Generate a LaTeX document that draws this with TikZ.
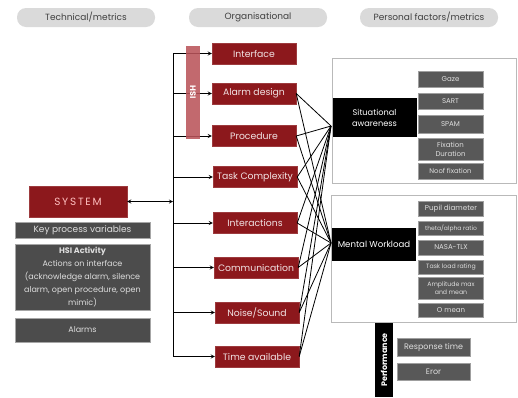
\documentclass[tikz,border=0pt]{standalone}
\usepackage{fontspec}
\setmainfont{Poppins}
\usetikzlibrary{arrows}

\definecolor{orgred}{RGB}{140,24,28}
\definecolor{hsired}{RGB}{186,84,90}
\definecolor{pill}{RGB}{218,218,218}
\definecolor{metricgray}{RGB}{88,88,88}
\definecolor{leftgray}{RGB}{76,76,76}
\definecolor{metrictext}{RGB}{222,222,222}

\begin{document}
\begin{tikzpicture}[x=1pt,y=-1pt,
  header/.style={fill=pill,rounded corners=9pt,minimum width=138pt,minimum height=19pt,inner sep=0pt,text=black!75,font=\fontsize{9}{10}\selectfont},
  orgbox/.style={fill=orgred,draw=orgred!85!white,minimum width=84pt,minimum height=21pt,inner sep=0pt,text=white!88!orgred,font=\fontsize{9.3}{10}\selectfont},
  leftbox/.style={fill=leftgray,draw=gray!70,minimum width=135pt,inner sep=0pt,align=center,text=metrictext,font=\fontsize{8}{12.8}\selectfont},
  metric/.style={fill=metricgray,draw=gray!75,minimum width=65pt,inner sep=0pt,align=center,text=metrictext,font=\fontsize{7}{8}\selectfont},
  blackbox/.style={fill=black,minimum width=84pt,inner sep=0pt,align=center,text=white,font=\fontsize{8.2}{11}\selectfont},
  frame/.style={draw=gray!55,line width=0.6pt},
  link/.style={line width=0.8pt}
]

\useasboundingbox (0,0) rectangle (518,397);

\node (hTech) at (86,17.5)[header]{Technical/metrics};
\node (hOrg) at (258,17.5)[header]{Organisational};
\node (hPers) at (429,17.5)[header]{Personal factors/metrics};

\node (sys) at (78,201.5)[fill=orgred,draw=orgred!85!white,minimum width=98pt,minimum height=31pt,text=red!25!white,font=\fontsize{10.5}{12}\selectfont]{S\,Y\,S\,T\,E\,M};
\node (kpv) at (82.5,230)[leftbox,minimum height=16pt,font=\fontsize{9}{10}\selectfont]{Key process variables};
\node (hsiAct) at (82.5,277)[leftbox,minimum height=66pt]{{\bfseries HSI Activity}\\Actions on interface\\(acknowledge alarm, silence\\alarm, open procedure, open\\mimic)};
\node (alarms) at (82.5,330)[leftbox,minimum height=24pt]{Alarms};

\node (ifc) at (254,53.5)[orgbox]{Interface};
\node (alarm) at (254,93.5)[orgbox]{Alarm design};
\node (proc) at (254,136)[orgbox]{Procedure};
\node (task) at (255,177)[orgbox]{Task Complexity};
\node (inter) at (255,223)[orgbox]{Interactions};
\node (comm) at (256,267.5)[orgbox]{Communication};
\node (noise) at (257,312.5)[orgbox]{Noise/Sound};
\node (time) at (257,356.5)[orgbox]{Time available};

\coordinate (trunk) at (173,0);
\draw[link] (trunk |- ifc) -- (trunk |- time);
\foreach \o in {ifc,alarm,proc,task,inter,comm,noise,time}
  \draw[link,-stealth] (trunk |- \o) -- (\o.west);
\draw[link,stealth-stealth] (sys.east) -- (trunk |- sys);

\node (hsi) at (193,92.5)[rotate=-90,fill=hsired,fill opacity=0.88,text opacity=1,minimum width=93pt,minimum height=14pt,inner sep=0pt,text=white,font=\bfseries\fontsize{8}{9}\selectfont]{HSI};

\draw[frame] (332,58) rectangle (516,183);
\draw[frame] (331,195) rectangle (516,322);

\node (sa) at (374.5,117.5)[blackbox,minimum height=39pt]{Situational\\awareness};
\node (mw) at (374,244.5)[blackbox,minimum height=33pt,font=\fontsize{8.6}{10}\selectfont]{Mental Workload};
\coordinate (saIn) at (331,126);
\coordinate (mwIn) at (331,243);

\foreach \o in {alarm,proc,task,inter,comm,noise,time}{
  \draw[link] (\o.east) -- (saIn);
  \draw[link] (\o.east) -- (mwIn);
}

\node (gaze) at (450.5,79)[metric,minimum height=16pt]{Gaze};
\node (sart) at (450.5,101)[metric,minimum height=16pt]{SART};
\node (spam) at (450.5,124)[metric,minimum height=18pt]{SPAM};
\node (fix) at (450.5,149)[metric,minimum height=22pt,font=\fontsize{7}{9}\selectfont]{Fixation\\Duration};
\node (nofix) at (450.5,171)[metric,minimum height=16pt,font=\fontsize{6.8}{8}\selectfont]{Noof fixation};

\node (pupil) at (451,208.5)[metric,minimum height=15pt,font=\fontsize{7.2}{8}\selectfont]{Pupil diameter};
\node (theta) at (451,228)[metric,minimum height=14pt,font=\fontsize{6}{7}\selectfont]{theta/alpha ratio};
\node (nasa) at (451,247.5)[metric,minimum height=15pt]{NASA-TLX};
\node (tlr) at (451,267)[metric,minimum height=14pt,font=\fontsize{6.2}{7}\selectfont]{Task load rating};
\node (ampl) at (451,288)[metric,minimum height=22pt,font=\fontsize{6.2}{8}\selectfont]{Amplitude max\\and mean};
\node (omean) at (451,310)[metric,minimum height=14pt]{O mean};

\node (perf) at (384,360)[rotate=90,fill=black,minimum width=74pt,minimum height=18pt,inner sep=0pt,text=white,font=\bfseries\fontsize{8}{9}\selectfont]{Performance};
\node (resp) at (433.5,347)[metric,minimum width=73pt,minimum height=18pt,font=\fontsize{8}{9}\selectfont]{Response time};
\node (err) at (433.5,371.5)[metric,minimum width=73pt,minimum height=17pt,font=\fontsize{8}{9}\selectfont]{Eror};

\end{tikzpicture}
\end{document}
